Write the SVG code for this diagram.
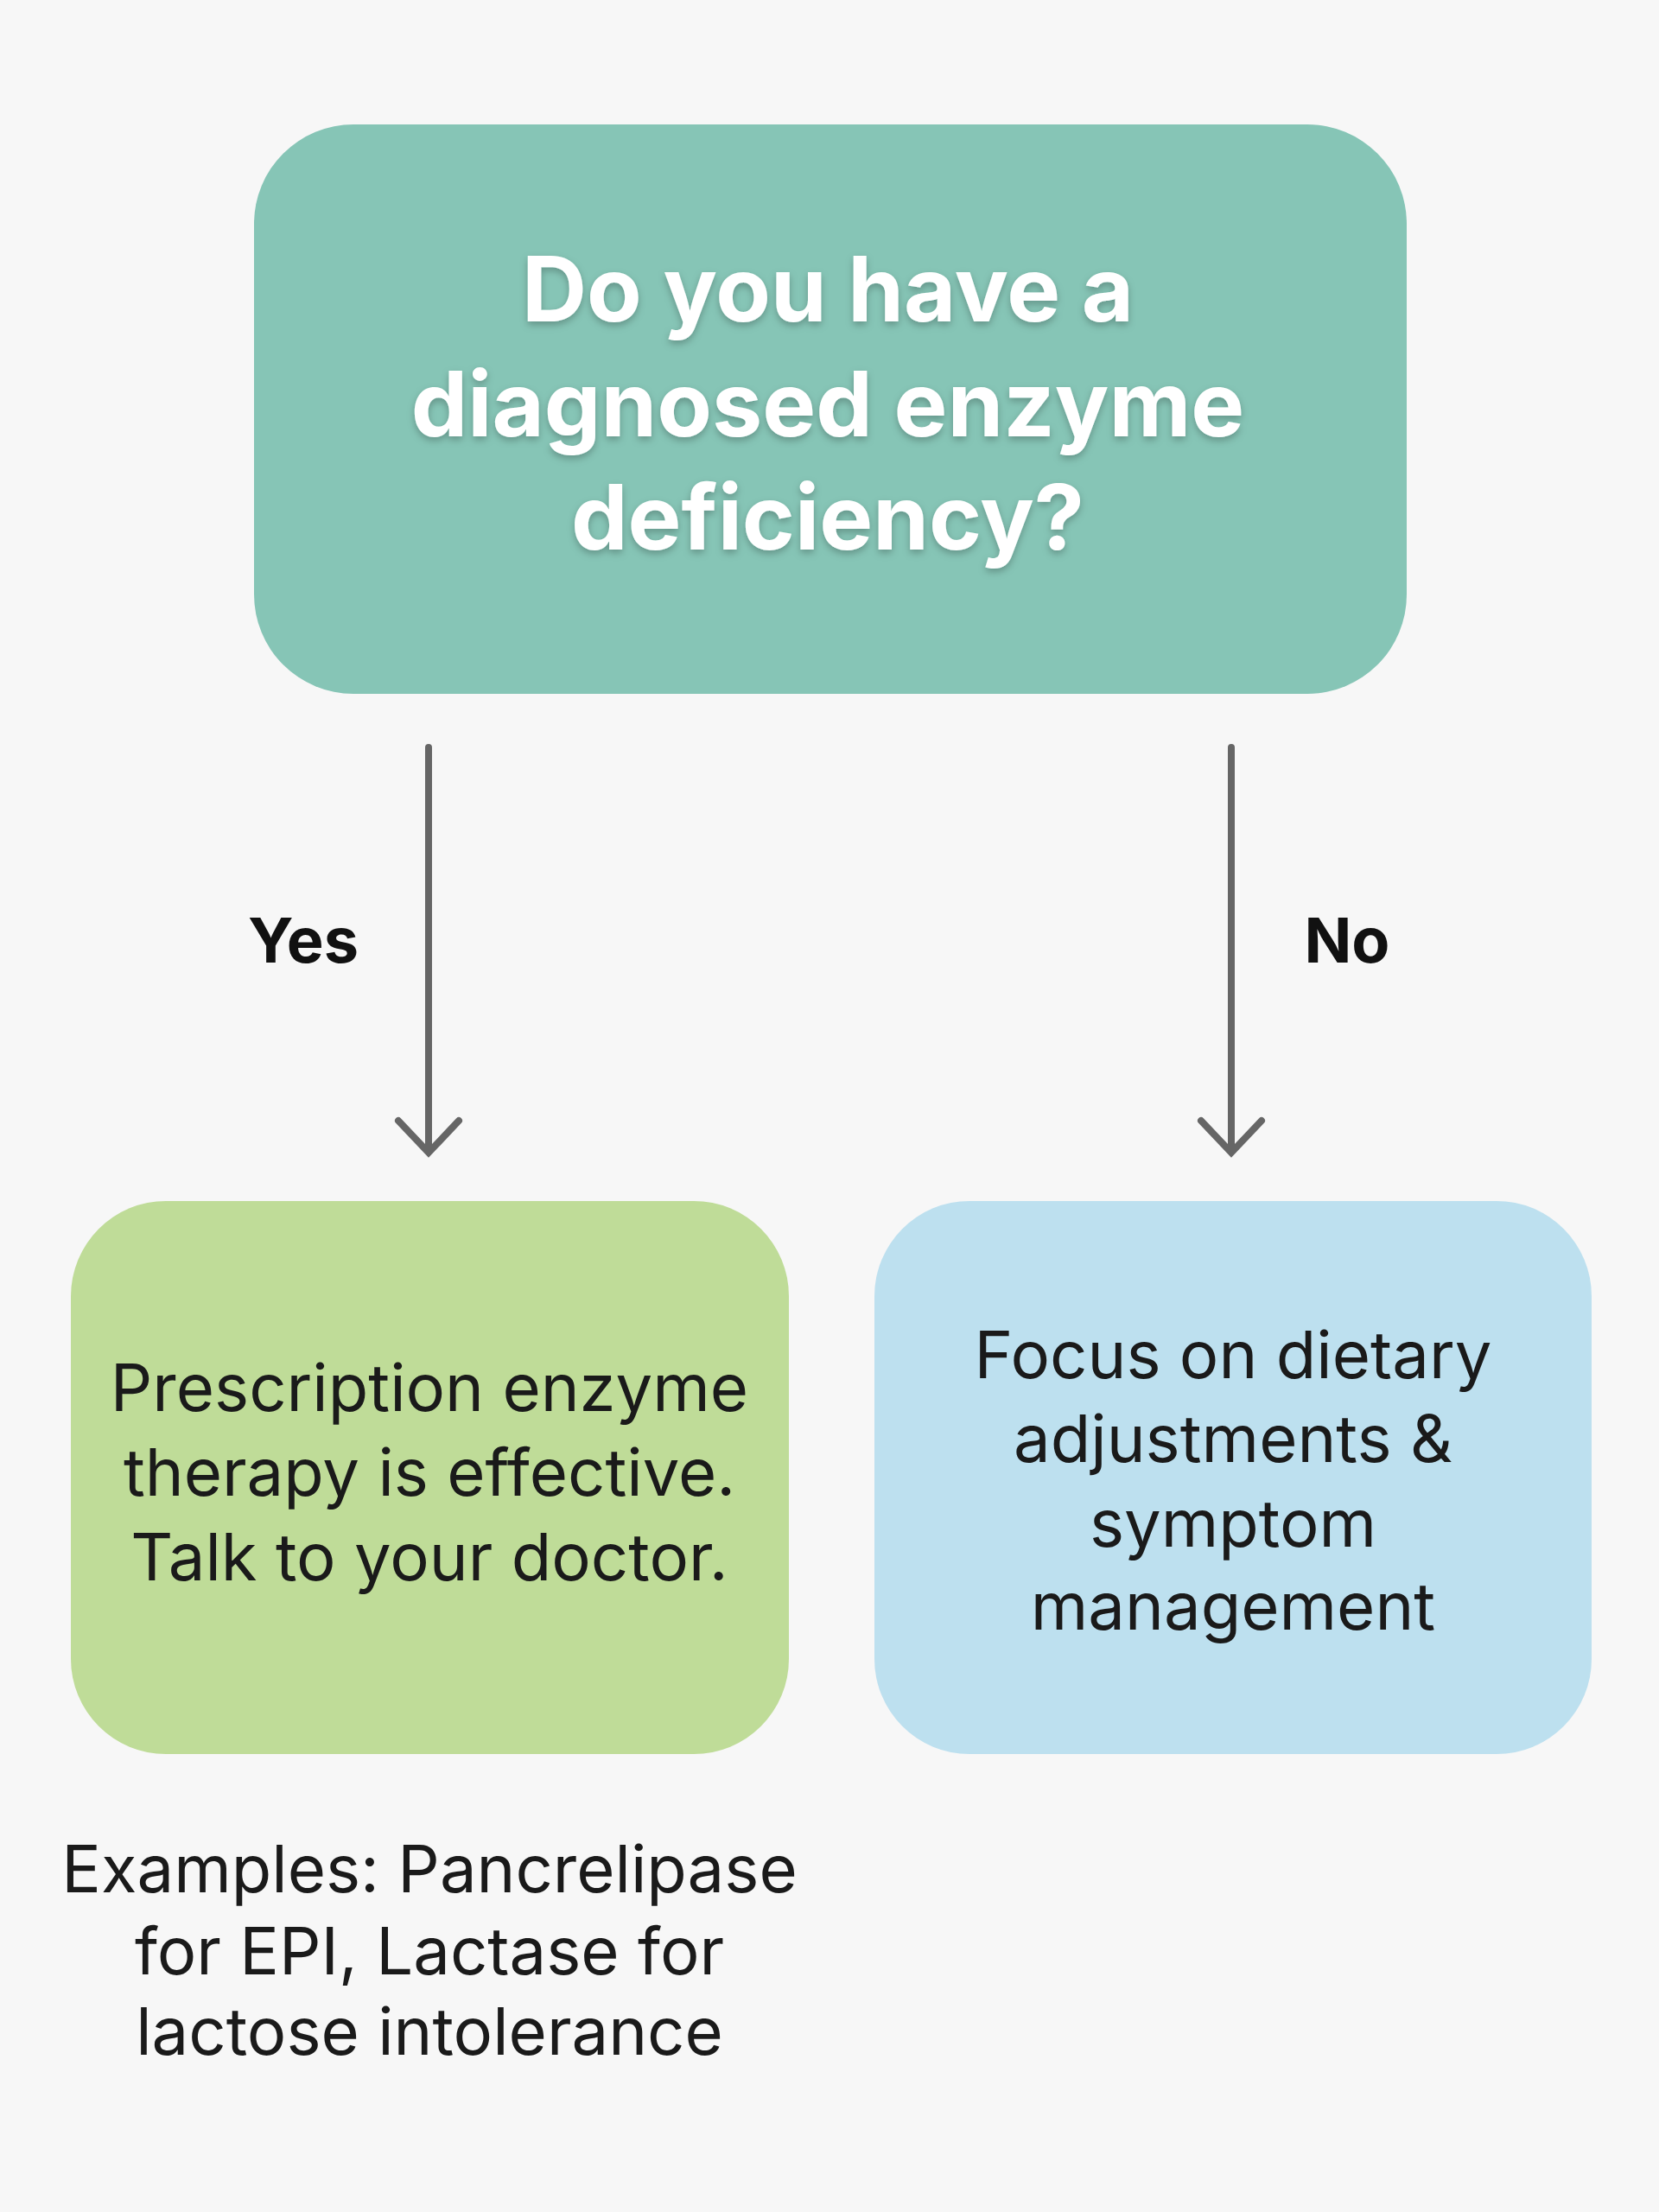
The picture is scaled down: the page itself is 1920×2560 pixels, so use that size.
<svg xmlns="http://www.w3.org/2000/svg" width="1920" height="2560" viewBox="0 0 1920 2560">
<defs>
<style>
.q{font-family:"Inter","Liberation Sans",sans-serif;font-weight:700;font-size:104px;fill:#fff;text-anchor:middle}
.lab{font-family:"Inter","Liberation Sans",sans-serif;font-weight:700;font-size:72px;fill:#111;text-anchor:middle}
.t{font-family:"Inter","Liberation Sans",sans-serif;font-size:76px;fill:#1a1a1a;text-anchor:middle}
.c{stroke:#666;stroke-width:8;fill:none;stroke-linecap:round}
</style>
<filter id="sh" x="-10%" y="-10%" width="120%" height="130%"><feDropShadow dx="0" dy="4" stdDeviation="4" flood-color="#000" flood-opacity="0.25"/></filter>
</defs>
<rect width="1920" height="2560" fill="#f7f7f7"/>
<g id="question">
<rect x="294" y="144" width="1334" height="659" rx="115" fill="#86c5b6"/>
<g filter="url(#sh)">
<text class="q" x="958" y="372">Do you have a</text>
<text class="q" x="958" y="505">diagnosed enzyme</text>
<text class="q" x="958" y="636">deficiency?</text>
</g>
</g>
<g id="connectors">
<path class="c" d="M496 865V1332M461 1297L496 1334L531 1297"/>
<path class="c" d="M1425 865V1332M1390 1297L1425 1334L1460 1297"/>
<text class="lab" x="351" y="1114">Yes</text>
<text class="lab" x="1559" y="1114">No</text>
</g>
<g id="yes">
<rect x="82" y="1390" width="831" height="640" rx="110" fill="#bfdc98"/>
<text class="t" x="497" y="1633">Prescription enzyme</text>
<text class="t" x="497" y="1731">therapy is effective.</text>
<text class="t" x="497" y="1829">Talk to your doctor.</text>
</g>
<g id="no">
<rect x="1012" y="1390" width="830" height="640" rx="110" fill="#bde0ef"/>
<text class="t" x="1427" y="1595">Focus on dietary</text>
<text class="t" x="1427" y="1692">adjustments &amp;</text>
<text class="t" x="1427" y="1790">symptom</text>
<text class="t" x="1427" y="1886">management</text>
</g>
<g id="examples">
<text class="t" x="497" y="2190">Examples: Pancrelipase</text>
<text class="t" x="497" y="2285">for EPI, Lactase for</text>
<text class="t" x="497" y="2378">lactose intolerance</text>
</g>
</svg>
